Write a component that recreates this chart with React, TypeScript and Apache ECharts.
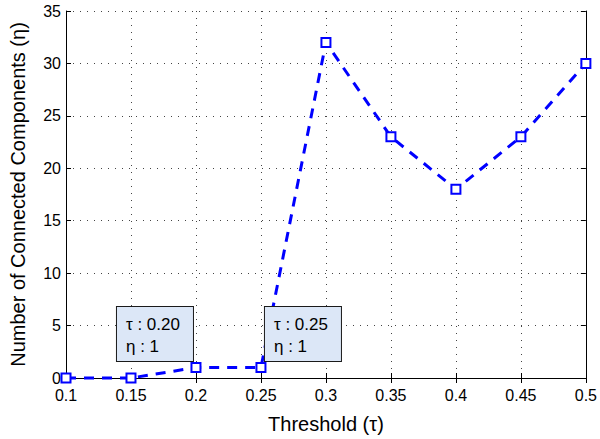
import React, { useEffect, useRef } from "react";
import * as echarts from "echarts";

const thresholds = [0.1, 0.15, 0.2, 0.25, 0.3, 0.35, 0.4, 0.45, 0.5];
const components = [0, 0, 1, 1, 32, 23, 18, 23, 30];
// data-cursor annotations: index into the series and which side the box sits
const annotatedIndex = [2, 3];
const annotatedSide = ["left", "right"];

const FONT = "'Liberation Sans', Arial, Helvetica, sans-serif";

export default function App() {
  const ref = useRef<HTMLDivElement>(null);
  useEffect(() => {
    if (!ref.current) return;
    const chart = echarts.init(ref.current, null, { renderer: "svg" });

    const boxContentW = 55;
    const padL = 9;
    const padR = 12;
    const boxW = boxContentW + padL + padR;

    const data = thresholds.map((t, i) => {
      const k = annotatedIndex.indexOf(i);
      const item: any = { value: [t, components[i]] };
      if (k >= 0) {
        const left = annotatedSide[k] === "left";
        item.label = {
          show: true,
          formatter: "τ : " + t.toFixed(2) + "\nη : " + components[i],
          position: left ? [2.5 - boxW, -1] : [9.5, -1],
          align: "left",
          verticalAlign: "bottom",
          width: boxContentW,
          overflow: "none",
          backgroundColor: "#dce7f7",
          borderColor: "#1a1a1a",
          borderWidth: 1,
          padding: [6, padR, 4, padL],
          lineHeight: 22,
          fontSize: 17,
          fontFamily: FONT,
          color: "#000",
        };
      }
      return item;
    });

    const gridLine = {
      show: true,
      lineStyle: { color: "#444", width: 1, type: [1, 6] },
    };

    chart.setOption({
      animation: false,
      backgroundColor: "#fff",
      grid: { left: 60, right: 11, top: 11, bottom: 50, containLabel: false },
      xAxis: [
        {
          type: "value",
          min: 0.1,
          max: 0.5,
          interval: 0.05,
          name: "Threshold (τ)",
          nameLocation: "middle",
          nameGap: 36,
          nameTextStyle: { fontSize: 20, fontFamily: FONT, color: "#000" },
          axisLine: { show: true, onZero: false, lineStyle: { color: "#000", width: 1 } },
          axisTick: { show: true, inside: true, length: 5, lineStyle: { color: "#000" } },
          axisLabel: {
            fontSize: 16,
            fontFamily: FONT,
            color: "#000",
            margin: 9,
            formatter: (v: number) => String(+v.toFixed(2)),
          },
          splitLine: gridLine,
        },
        {
          type: "value",
          position: "top",
          min: 0.1,
          max: 0.5,
          interval: 0.05,
          axisLine: { show: true, lineStyle: { color: "#000", width: 1 } },
          axisTick: { show: true, inside: true, length: 5, lineStyle: { color: "#000" } },
          axisLabel: { show: false },
          splitLine: { show: false },
        },
      ],
      yAxis: [
        {
          type: "value",
          min: 0,
          max: 35,
          interval: 5,
          name: "Number of Connected Components (η)",
          nameLocation: "middle",
          nameGap: 38,
          nameTextStyle: { fontSize: 20, fontFamily: FONT, color: "#000" },
          axisLine: { show: true, lineStyle: { color: "#000", width: 1 } },
          axisTick: { show: true, inside: true, length: 5, lineStyle: { color: "#000" } },
          axisLabel: { fontSize: 16, fontFamily: FONT, color: "#000", margin: 5 },
          splitLine: gridLine,
        },
        {
          type: "value",
          position: "right",
          min: 0,
          max: 35,
          interval: 5,
          axisLine: { show: true, lineStyle: { color: "#000", width: 1 } },
          axisTick: { show: true, inside: true, length: 5, lineStyle: { color: "#000" } },
          axisLabel: { show: false },
          splitLine: { show: false },
        },
      ],
      series: [
        {
          type: "line",
          data,
          xAxisIndex: 0,
          yAxisIndex: 0,
          symbol: "rect",
          symbolSize: 9,
          showAllSymbol: true,
          clip: false,
          lineStyle: { color: "#0000ff", width: 3, type: [10, 8] },
          itemStyle: { color: "#fff", borderColor: "#0000ff", borderWidth: 2 },
          z: 3,
        },
      ],
    });
    return () => chart.dispose();
  }, []);
  return <div ref={ref} style={{ width: 600, height: 439, position: "absolute", left: 0, top: 0 }} />;
}
